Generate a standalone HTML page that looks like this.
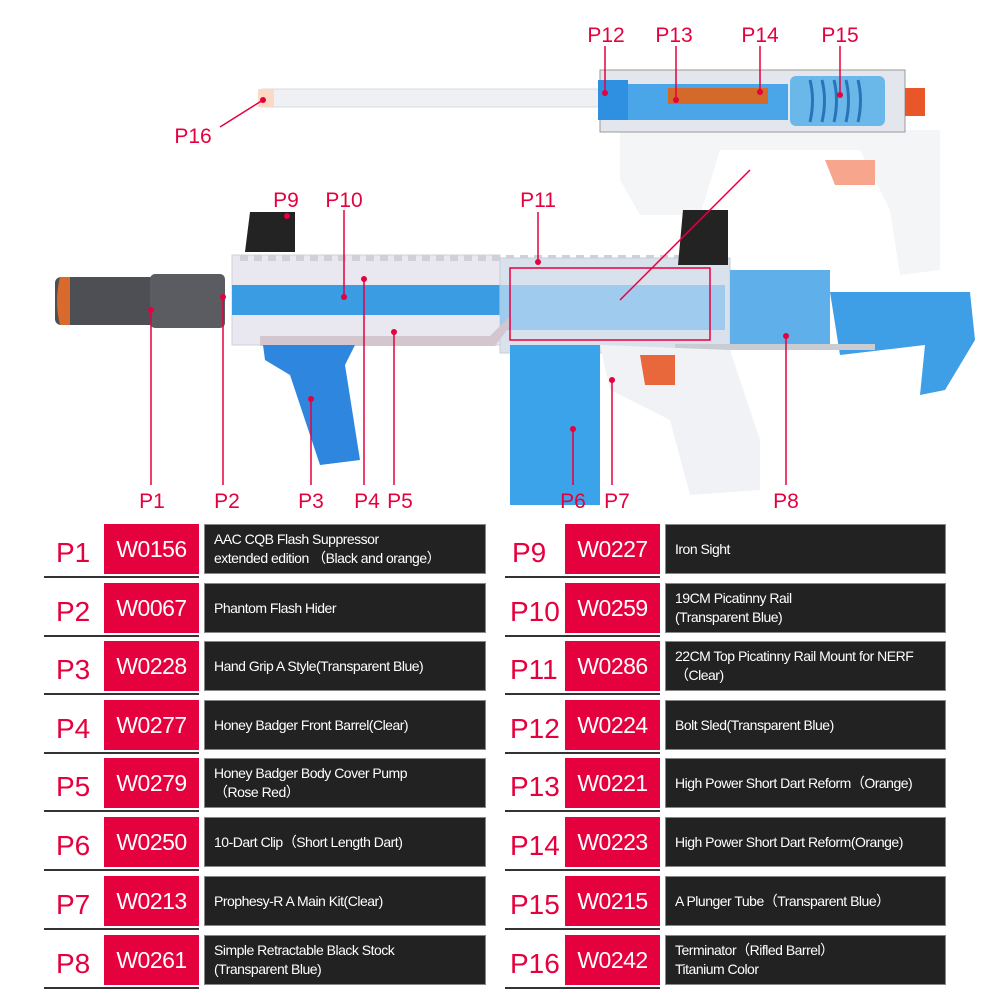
<!DOCTYPE html>
<html><head><meta charset="utf-8"><style>
body{margin:0;width:1000px;height:1000px;background:#fff;position:relative;overflow:hidden;font-family:"Liberation Sans",sans-serif}
.lab{position:absolute;color:#e5003e;font-size:28px;width:56px;text-align:left}
.ul{position:absolute;height:2px;background:#333}
.red{position:absolute;background:#e5003e;color:#fff;font-size:23px;display:flex;align-items:center;justify-content:center;width:95px;height:50px;letter-spacing:-0.5px}
.dk{position:absolute;background:#222;border:1px solid #888;box-sizing:border-box;color:#fff;font-size:14px;display:flex;align-items:center;padding-left:9px;line-height:19px;height:50px;letter-spacing:-0.5px}
svg{position:absolute;left:0;top:0}
</style></head><body>
<svg width="1000" height="515" viewBox="0 0 1000 515">
<g>
<rect x="262" y="89" width="340" height="18" fill="#eef0f4" stroke="#d7dbe2"/>
<rect x="258" y="89" width="16" height="18" fill="#fbd9c4"/>
<path d="M620 130 L940 130 L940 270 L900 275 L890 210 L860 150 L720 150 L700 215 L640 215 L620 180Z" fill="#f4f5f7"/>
<rect x="600" y="70" width="305" height="62" fill="#e3e6ec" stroke="#999"/>
<rect x="598" y="80" width="30" height="40" fill="#2f8fe0"/>
<rect x="628" y="84" width="160" height="36" fill="#4aa6e8"/>
<rect x="668" y="88" width="100" height="16" fill="#d36a2a"/>
<rect x="790" y="76" width="95" height="50" rx="6" fill="#6ab8ea"/>
<path d="M810 80 q5 20 0 42 M822 80 q5 20 0 42 M834 80 q5 20 0 42 M846 80 q5 20 0 42 M858 80 q5 20 0 42" stroke="#2a73b8" fill="none" stroke-width="3"/>
<rect x="905" y="88" width="20" height="28" fill="#e8562a"/>
<path d="M825 160 h50 v25 h-40z" fill="#f7a58c"/>
<path d="M232 255 L500 255 L500 345 L232 345Z" fill="#e9e8f1" stroke="#d0d0da"/>
<path d="M240 258 h460" stroke="#cfd0d8" stroke-width="6" stroke-dasharray="8 6"/>
<rect x="55" y="277" width="170" height="48" rx="6" fill="#4d4f55"/>
<rect x="150" y="274" width="75" height="54" rx="5" fill="#5a5c62"/>
<path d="M70 277 h-10 q-6 24 0 48 h10z" fill="#d96a2d"/>
<rect x="232" y="285" width="270" height="30" fill="#3a9de4"/>
<rect x="500" y="258" width="230" height="95" fill="#d9e1ec" stroke="#c6ced9"/>
<rect x="500" y="285" width="225" height="45" fill="#8fc6ef" opacity="0.8"/>
<path d="M260 336 h230 l20 -20 v10 l-15 20 h-235z" fill="#d3c6cf"/>
<rect x="730" y="270" width="100" height="80" fill="#5fb0ea"/>
<path d="M830 292 L970 292 L975 340 L945 390 L920 395 L925 345 L840 355Z" fill="#3e9ee6"/>
<rect x="675" y="344" width="200" height="6" fill="#c9ccd2"/>
<path d="M600 345 L730 350 L760 440 L760 490 L690 495 L670 420 L630 400 L610 390Z" fill="#f1f2f5"/>
<rect x="510" y="345" width="90" height="160" fill="#3aa3ea"/>
<path d="M640 355 h35 v30 h-30z" fill="#e8683c"/>
<path d="M263 345 L355 345 L345 365 L360 460 L320 465 L290 375 L265 360Z" fill="#2f86df"/>
<path d="M250 212 h45 v40 h-50z M683 210 h45 v55 h-50z" fill="#232323"/>
</g>
<g stroke="#e5003e" stroke-width="1.5" fill="none">
<path d="M151 310 V485 M223 297 V485 M311 399 V485 M364 279 V485 M394 332 V485 M573 429 V485 M612 380 V485 M786 336 V485 M344 210 V297 M538 212 V262 M605 46 V93 M676 46 V100 M760 46 V92 M840 46 V95 M220 127 L263 100 M620 300 L750 170"/>
<rect x="510" y="268" width="200" height="72"/>
</g>
<g fill="#e5003e">
<circle cx="151" cy="310" r="3"/><circle cx="223" cy="297" r="3"/><circle cx="311" cy="399" r="3"/><circle cx="364" cy="279" r="3"/><circle cx="394" cy="332" r="3"/><circle cx="573" cy="429" r="3"/><circle cx="612" cy="380" r="3"/><circle cx="786" cy="336" r="3"/><circle cx="344" cy="297" r="3"/><circle cx="538" cy="262" r="3"/><circle cx="287" cy="216" r="3"/><circle cx="605" cy="93" r="3"/><circle cx="676" cy="100" r="3"/><circle cx="760" cy="92" r="3"/><circle cx="840" cy="95" r="3"/><circle cx="263" cy="100" r="3"/>
</g>
<g fill="#e5003e" font-family="Liberation Sans" font-size="21" text-anchor="middle">
<text x="152" y="508">P1</text><text x="227" y="508">P2</text><text x="311" y="508">P3</text><text x="367" y="508">P4</text><text x="400" y="508">P5</text><text x="573" y="508">P6</text><text x="617" y="508">P7</text><text x="786" y="508">P8</text>
<text x="286" y="207">P9</text><text x="344" y="207">P10</text><text x="538" y="207">P11</text>
<text x="606" y="42">P12</text><text x="674" y="42">P13</text><text x="760" y="42">P14</text><text x="840" y="42">P15</text><text x="193" y="143">P16</text>
</g>
</svg>

<div class="lab" style="left:56px;top:537px">P1</div><div class="ul" style="left:44px;top:576px;width:155px"></div><div class="red" style="left:104px;top:524px">W0156</div><div class="dk" style="left:204px;top:524px;width:282px">AAC CQB Flash Suppressor<br>extended edition （Black and orange）</div>
<div class="lab" style="left:56px;top:596px">P2</div><div class="ul" style="left:44px;top:635px;width:155px"></div><div class="red" style="left:104px;top:583px">W0067</div><div class="dk" style="left:204px;top:583px;width:282px">Phantom Flash Hider</div>
<div class="lab" style="left:56px;top:654px">P3</div><div class="ul" style="left:44px;top:693px;width:155px"></div><div class="red" style="left:104px;top:641px">W0228</div><div class="dk" style="left:204px;top:641px;width:282px">Hand Grip A Style(Transparent Blue)</div>
<div class="lab" style="left:56px;top:713px">P4</div><div class="ul" style="left:44px;top:752px;width:155px"></div><div class="red" style="left:104px;top:700px">W0277</div><div class="dk" style="left:204px;top:700px;width:282px">Honey Badger Front Barrel(Clear)</div>
<div class="lab" style="left:56px;top:771px">P5</div><div class="ul" style="left:44px;top:810px;width:155px"></div><div class="red" style="left:104px;top:758px">W0279</div><div class="dk" style="left:204px;top:758px;width:282px">Honey Badger Body Cover Pump<br>（Rose Red）</div>
<div class="lab" style="left:56px;top:830px">P6</div><div class="ul" style="left:44px;top:869px;width:155px"></div><div class="red" style="left:104px;top:817px">W0250</div><div class="dk" style="left:204px;top:817px;width:282px">10-Dart Clip（Short Length Dart)</div>
<div class="lab" style="left:56px;top:889px">P7</div><div class="ul" style="left:44px;top:928px;width:155px"></div><div class="red" style="left:104px;top:876px">W0213</div><div class="dk" style="left:204px;top:876px;width:282px">Prophesy-R A Main Kit(Clear)</div>
<div class="lab" style="left:56px;top:948px">P8</div><div class="ul" style="left:44px;top:987px;width:155px"></div><div class="red" style="left:104px;top:935px">W0261</div><div class="dk" style="left:204px;top:935px;width:282px">Simple Retractable Black Stock<br>(Transparent Blue)</div>

<div class="lab" style="left:512px;top:537px">P9</div><div class="ul" style="left:505px;top:576px;width:155px"></div><div class="red" style="left:565px;top:524px">W0227</div><div class="dk" style="left:665px;top:524px;width:281px">Iron Sight</div>
<div class="lab" style="left:510px;top:596px">P10</div><div class="ul" style="left:505px;top:635px;width:155px"></div><div class="red" style="left:565px;top:583px">W0259</div><div class="dk" style="left:665px;top:583px;width:281px">19CM Picatinny Rail<br>(Transparent Blue)</div>
<div class="lab" style="left:510px;top:654px">P11</div><div class="ul" style="left:505px;top:693px;width:155px"></div><div class="red" style="left:565px;top:641px">W0286</div><div class="dk" style="left:665px;top:641px;width:281px">22CM Top Picatinny Rail Mount for NERF<br>（Clear)</div>
<div class="lab" style="left:510px;top:713px">P12</div><div class="ul" style="left:505px;top:752px;width:155px"></div><div class="red" style="left:565px;top:700px">W0224</div><div class="dk" style="left:665px;top:700px;width:281px">Bolt Sled(Transparent Blue)</div>
<div class="lab" style="left:510px;top:771px">P13</div><div class="ul" style="left:505px;top:810px;width:155px"></div><div class="red" style="left:565px;top:758px">W0221</div><div class="dk" style="left:665px;top:758px;width:281px">High Power Short Dart Reform（Orange)</div>
<div class="lab" style="left:510px;top:830px">P14</div><div class="ul" style="left:505px;top:869px;width:155px"></div><div class="red" style="left:565px;top:817px">W0223</div><div class="dk" style="left:665px;top:817px;width:281px">High Power Short Dart Reform(Orange)</div>
<div class="lab" style="left:510px;top:889px">P15</div><div class="ul" style="left:505px;top:928px;width:155px"></div><div class="red" style="left:565px;top:876px">W0215</div><div class="dk" style="left:665px;top:876px;width:281px">A Plunger Tube（Transparent Blue）</div>
<div class="lab" style="left:510px;top:948px">P16</div><div class="ul" style="left:505px;top:987px;width:155px"></div><div class="red" style="left:565px;top:935px">W0242</div><div class="dk" style="left:665px;top:935px;width:281px">Terminator（Rifled Barrel）<br>Titanium Color</div>
</body></html>
